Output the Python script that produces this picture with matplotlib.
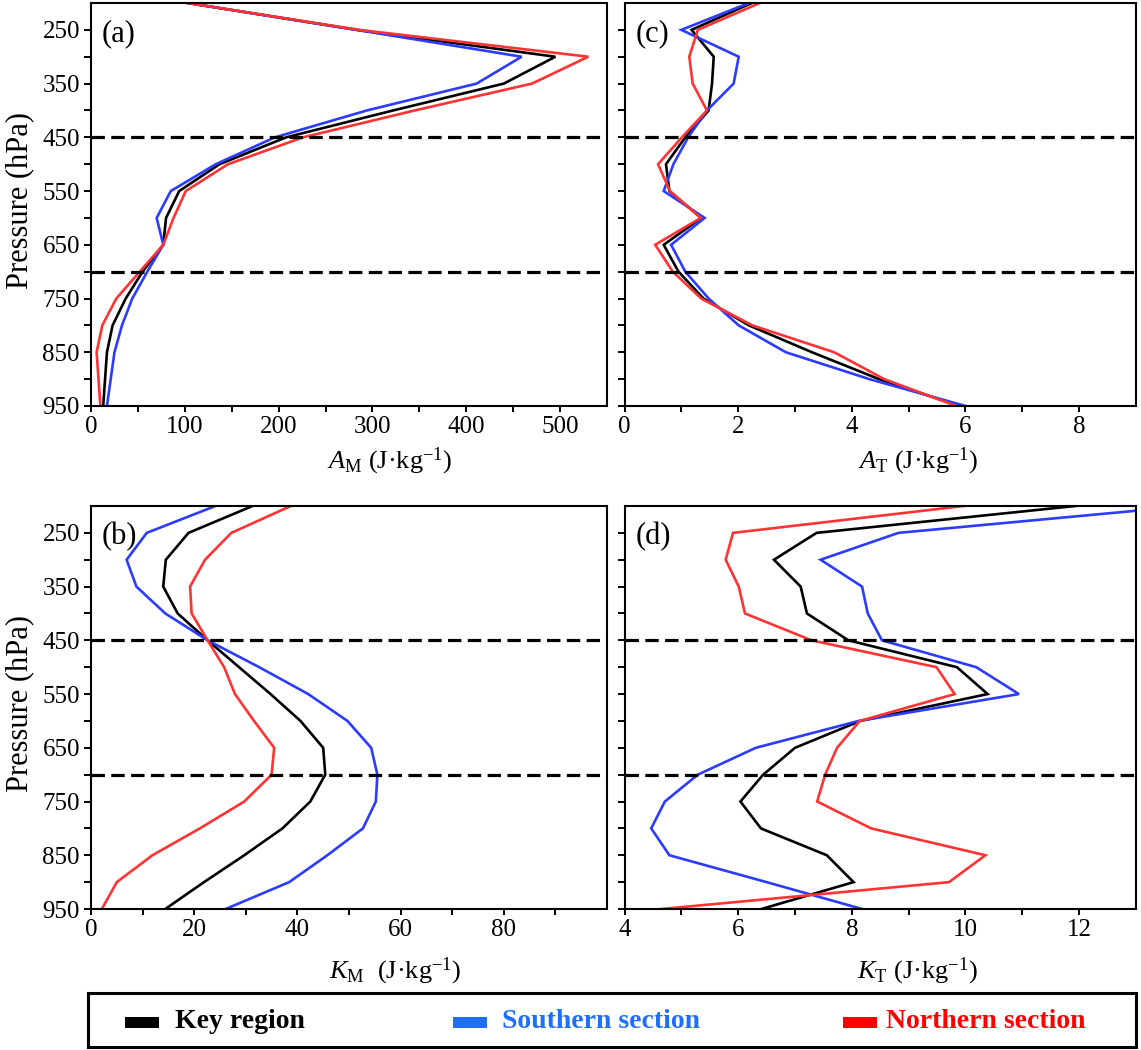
import matplotlib
matplotlib.use("Agg")
import matplotlib.pyplot as plt
from matplotlib.patches import Rectangle
from matplotlib.ticker import FixedLocator

plt.rcParams['font.family'] = ['Liberation Serif', 'DejaVu Serif']
plt.rcParams['mathtext.fontset'] = 'custom'
plt.rcParams['mathtext.rm'] = 'Liberation Serif'
plt.rcParams['mathtext.it'] = 'Liberation Serif:italic'
plt.rcParams['mathtext.bf'] = 'Liberation Serif:bold'

# ---------------- data ----------------
levels = [200, 250, 300, 350, 400, 450, 500, 550, 600, 650, 700, 750, 800, 850, 900, 950]

# (a) A_M
am_key = [103, 283, 495, 440, 322, 208, 137, 94, 80, 77, 55, 37, 23, 17, 15, 13]
am_south = [103, 283, 459, 411, 294, 196, 133, 85, 70, 77, 60, 44, 33, 25, 21, 17]
am_north = [103, 286, 530, 470, 345, 226, 146, 101, 88, 77, 52, 27, 12, 6, 8, 10]

# (b) K_M
km_key = [31.3, 18.9, 14.5, 14.0, 16.8, 22.6, 28.7, 34.8, 40.6, 45.0, 45.4, 42.5, 37.1, 29.7, 21.9, 14.4]
km_south = [24.1, 10.8, 6.9, 8.8, 14.4, 22.6, 32.6, 42.1, 49.7, 54.3, 55.5, 55.2, 52.7, 45.8, 38.4, 26.1]
km_north = [38.7, 27.2, 22.1, 19.2, 19.5, 22.6, 25.8, 27.9, 31.6, 35.5, 35.0, 29.7, 21.1, 11.9, 5.0, 2.1]

# (c) A_T
at_key = [2.24, 1.18, 1.57, 1.54, 1.48, 1.07, 0.73, 0.79, 1.35, 0.69, 0.95, 1.39, 2.19, 3.30, 4.48, 5.89]
at_south = [2.19, 1.00, 2.01, 1.92, 1.45, 1.12, 0.86, 0.69, 1.41, 0.82, 1.07, 1.48, 2.01, 2.84, 4.31, 6.00]
at_north = [2.38, 1.29, 1.14, 1.20, 1.45, 1.01, 0.59, 0.80, 1.34, 0.54, 0.85, 1.35, 2.25, 3.69, 4.57, 5.84]

# (d) K_T
kt_key = [11.93, 7.38, 6.63, 7.10, 7.21, 7.94, 9.85, 10.39, 8.15, 7.00, 6.44, 6.04, 6.40, 7.56, 8.03, 6.41]
kt_south = [13.9, 8.82, 7.45, 8.18, 8.28, 8.53, 10.19, 10.94, 8.12, 6.31, 5.29, 4.71, 4.47, 4.79, 6.50, 8.18]
kt_north = [9.97, 5.91, 5.78, 6.01, 6.12, 7.29, 9.49, 9.81, 8.14, 7.74, 7.53, 7.39, 8.34, 10.35, 9.71, 4.65]

series_names = ['Key region', 'Southern section', 'Northern section']
line_colors = ['#000000', '#2b3cff', '#ff3333']
legend_colors = ['#000000', '#1f6fff', '#ff0000']

ytick_major = [250, 350, 450, 550, 650, 750, 850, 950]
ytick_minor = [300, 400, 500, 600, 700, 800, 900]
dash_levels = [450, 700]

# ---------------- figure ----------------
W, H = 1141, 1050
fig = plt.figure(figsize=(W / 100, H / 100), dpi=100)

def ax_at(l, t, r, b):
    return fig.add_axes([l / W, 1 - b / H, (r - l) / W, (b - t) / H])

panels = [
    dict(rect=(91, 3, 607, 406), data=(am_key, am_south, am_north), xlim=(0, 550),
         major=[0, 100, 200, 300, 400, 500], minor=[50, 150, 250, 350, 450],
         tag='(a)', xlabel=r'$A_{\mathrm{M}}$ (J·kg$^{\mathrm{-1}}$)', lx=390, ly=461, ylab=True),
    dict(rect=(624.5, 3, 1136, 406), data=(at_key, at_south, at_north), xlim=(0, 9),
         major=[0, 2, 4, 6, 8], minor=[1, 3, 5, 7],
         tag='(c)', xlabel=r'$A_{\mathrm{T}}$ (J·kg$^{\mathrm{-1}}$)', lx=918, ly=461, ylab=False),
    dict(rect=(91, 506, 607, 909), data=(km_key, km_south, km_north), xlim=(0, 100),
         major=[0, 20, 40, 60, 80], minor=[10, 30, 50, 70, 90],
         tag='(b)', xlabel=r'$K_{\mathrm{M}}$  (J·kg$^{\mathrm{-1}}$)', lx=395, ly=971, ylab=True),
    dict(rect=(624.5, 506, 1136, 909), data=(kt_key, kt_south, kt_north), xlim=(4, 13),
         major=[4, 6, 8, 10, 12], minor=[5, 7, 9, 11],
         tag='(d)', xlabel=r'$K_{\mathrm{T}}$ (J·kg$^{\mathrm{-1}}$)', lx=917, ly=971, ylab=False),
]

for p in panels:
    l, t, r, b = p['rect']
    ax = ax_at(l, t, r, b)
    for vals, c in zip(p['data'], line_colors):
        ax.plot(vals, levels, color=c, lw=1.9, solid_joinstyle='miter', clip_on=True)
    for dl in dash_levels:
        ax.axhline(dl, color='black', lw=2.3, linestyle=(0, (4.2, 2.0)))
    ax.set_xlim(*p['xlim'])
    ax.set_ylim(950, 200)
    ax.yaxis.set_major_locator(FixedLocator(ytick_major))
    ax.yaxis.set_minor_locator(FixedLocator(ytick_minor))
    ax.xaxis.set_major_locator(FixedLocator(p['major']))
    ax.xaxis.set_minor_locator(FixedLocator(p['minor']))
    ax.tick_params(which='both', direction='out', length=5, width=1.4)
    ax.tick_params(axis='y', which='both', length=5, pad=3, labelsize=18)
    ax.tick_params(axis='x', which='both', length=4, pad=3, labelsize=18)
    if not p['ylab']:
        ax.set_yticklabels([])
    for s in ax.spines.values():
        s.set_linewidth(1.5)
    ax.text(11 / (r - l), 1 - 31 / (b - t), p['tag'], transform=ax.transAxes,
            fontsize=22, ha='left', va='center')
    fig.text(p['lx'] / W, 1 - p['ly'] / H, p['xlabel'], fontsize=19, ha='center', va='center')
    if p['ylab']:
        fig.text(20 / W, 1 - ((t + b) / 2 - 4) / H, 'Pressure (hPa)', rotation=90,
                 fontsize=22, ha='center', va='center')

# ---------------- legend ----------------
fig.patches.append(Rectangle((88 / W, 1 - 1047 / H), (1136 - 88) / W, (1047 - 993) / H,
                             transform=fig.transFigure, fill=False, edgecolor='black',
                             linewidth=2.2))
leg_patch_x = [125, 453, 843]
leg_text_x = [175, 502, 886]
for name, lc, px, tx in zip(series_names, legend_colors, leg_patch_x, leg_text_x):
    fig.patches.append(Rectangle((px / W, 1 - 1028 / H), 34 / W, 11 / H,
                                 transform=fig.transFigure, facecolor=lc, edgecolor='none'))
    fig.text(tx / W, 1 - 1022 / H, name, color=lc, fontsize=20, fontweight='bold',
             ha='left', va='center')

fig.savefig('out.png', dpi=100)
